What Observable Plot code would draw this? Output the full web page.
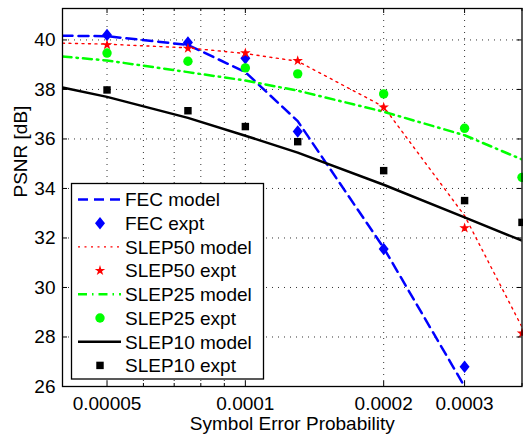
<!DOCTYPE html>
<html><head><meta charset="utf-8">
<script src="https://cdn.jsdelivr.net/npm/d3@7"></script>
<script src="https://cdn.jsdelivr.net/npm/@observablehq/plot@0.6"></script>
<style>
body{margin:0;background:#fff;}
#chart{position:relative;width:523px;height:435px;font-family:"Liberation Sans",Arial,sans-serif;}
#chart svg{display:block;}
#legend{position:absolute;left:0;top:0;pointer-events:none;}
</style></head><body><div id="chart"></div>
<script>
// ---- data ----
const xExpt = [5e-5, 7.5e-5, 1e-4, 1.3e-4, 2e-4, 3e-4, 4e-4];
const xModel = [4e-5, 5e-5, 7.5e-5, 1e-4, 1.3e-4, 2e-4, 3e-4, 4e-4];
const fecModel = [40.17, 40.15, 39.8, 38.7, 36.72, 31.6, 26.0];
const fecExpt = [40.2, 39.9, 39.26, 36.3, 31.55, 26.8];
const slep50Model = [39.87, 39.83, 39.68, 39.45, 39.14, 37.3, 32.9, 28.4];
const slep50Expt = [39.8, 39.66, 39.47, 39.16, 37.28, 32.4, 28.15];
const slep25Model = [39.33, 39.17, 38.7, 38.36, 37.95, 37.1, 36.15, 35.17];
const slep25Expt = [39.47, 39.14, 38.87, 38.63, 37.82, 36.43, 34.45];
const slep10Model = [38.08, 37.7, 36.85, 36.13, 35.45, 34.15, 32.83, 31.89];
const slep10Expt = [37.98, 37.14, 36.5, 35.89, 34.72, 33.51, 32.63];
const legendLabels = ["FEC model","FEC expt","SLEP50 model","SLEP50 expt","SLEP25 model","SLEP25 expt","SLEP10 model","SLEP10 expt"];
const xTicks = [5e-5, 1e-4, 2e-4, 3e-4];
const xTickLabels = ["0.00005","0.0001","0.0002","0.0003"];
const xMinor = [4e-5, 6e-5, 7e-5, 8e-5, 9e-5, 4e-4];
const xGrid = [5e-5, 6e-5, 7e-5, 8e-5, 9e-5, 1e-4, 2e-4, 3e-4];
const yTicks = [26, 28, 30, 32, 34, 36, 38, 40];
const xLabel = "Symbol Error Probability";
const yLabel = "PSNR [dB]";

// ---- helpers ----
const rows = (xs, ys) => ys.map((y, i) => ({x: xs[i], y}));
const diamond = {draw(ctx, size){const r=Math.sqrt(size/Math.PI);ctx.moveTo(0,-r*1.25);ctx.lineTo(r,0);ctx.lineTo(0,r*1.25);ctx.lineTo(-r,0);ctx.closePath();}};
const W = 523, H = 435, ML = 62, MR = 1.5, MT = 8, MB = 49;
const innerW = W - ML - MR, innerH = H - MT - MB;
const font = "Liberation Sans, Arial, sans-serif";

const series = [
  {model: fecModel, expt: fecExpt, color: "#0000ff", dash: "10,6", lw: 2.5, symbol: diamond, r: 5},
  {model: slep50Model, expt: slep50Expt, color: "#ff0000", dash: "2,4.5", lw: 1.4, symbol: "star", r: 3.3},
  {model: slep25Model, expt: slep25Expt, color: "#00ff00", dash: "9,5,1.5,5", lw: 2.5, symbol: "circle", r: 4.7},
  {model: slep10Model, expt: slep10Expt, color: "#000000", dash: null, lw: 2.5, symbol: "square", r: 4.2}
];

const marks = [
  Plot.gridX(xGrid, {stroke: "#333", strokeOpacity: 1, strokeWidth: 1, strokeDasharray: "1,5"}),
  Plot.gridY(yTicks, {stroke: "#333", strokeOpacity: 1, strokeWidth: 1, strokeDasharray: "1,5"})
];
for (const s of series) {
  marks.push(Plot.line(rows(xModel, s.model), {x: "x", y: "y", stroke: s.color, strokeWidth: s.lw, strokeDasharray: s.dash, clip: true}));
}
for (const s of series) {
  marks.push(Plot.dot(rows(xExpt, s.expt), {x: "x", y: "y", symbol: s.symbol, r: s.r, fill: s.color, stroke: "none"}));
}
marks.push(
  Plot.frame({stroke: "black", strokeWidth: 1.3}),
  Plot.tickX(xTicks, {x: d => d, stroke: "black", insetTop: innerH - 5}),
  Plot.tickX(xTicks, {x: d => d, stroke: "black", insetBottom: innerH - 5}),
  Plot.tickX(xMinor, {x: d => d, stroke: "black", insetTop: innerH - 3}),
  Plot.tickX(xMinor, {x: d => d, stroke: "black", insetBottom: innerH - 3}),
  Plot.tickY(yTicks, {y: d => d, stroke: "black", insetRight: innerW - 5}),
  Plot.tickY(yTicks, {y: d => d, stroke: "black", insetLeft: innerW - 5}),
  Plot.axisX(xTicks, {tickSize: 0, tickPadding: 10, tickFormat: d => xTickLabels[xTicks.indexOf(d)], fontSize: 19, fill: "black", label: null}),
  Plot.axisY(yTicks, {tickSize: 0, tickPadding: 7, fontSize: 19, fill: "black", label: null}),
  Plot.text([xLabel], {frameAnchor: "bottom", dy: 37, lineAnchor: "middle", fontSize: 19, fill: "black"}),
  Plot.text([yLabel], {frameAnchor: "left", dx: -42, rotate: -90, lineAnchor: "middle", fontSize: 19, fill: "black"})
);

const chart = Plot.plot({
  width: W, height: H, marginLeft: ML, marginRight: MR, marginTop: MT, marginBottom: MB,
  style: {fontFamily: font, fontSize: "19px", background: "white", color: "black"},
  x: {type: "log", domain: [4e-5, 4e-4]},
  y: {domain: [26, 41.27]},
  marks
});
const container = document.getElementById("chart");
container.appendChild(chart);

// ---- legend overlay ----
const lg = d3.select(container).append("svg").attr("id", "legend").attr("width", W).attr("height", H);
lg.append("rect").attr("x", 71.5).attr("y", 183.5).attr("width", 192).attr("height", 195.5)
  .attr("fill", "white").attr("stroke", "black").attr("stroke-width", 1.3);
const symMap = {star: d3.symbolStar, circle: d3.symbolCircle, square: d3.symbolSquare};
legendLabels.forEach((lab, i) => {
  const cy = 199.5 + 23.7 * i;
  const s = series[Math.floor(i / 2)];
  if (i % 2 === 0) {
    lg.append("line").attr("x1", 78).attr("x2", 121).attr("y1", cy).attr("y2", cy)
      .attr("stroke", s.color).attr("stroke-width", s.lw).attr("stroke-dasharray", s.dash);
  } else {
    const t = typeof s.symbol === "string" ? symMap[s.symbol] : s.symbol;
    lg.append("path").attr("transform", `translate(100,${cy})`)
      .attr("d", d3.symbol(t, s.r * s.r * Math.PI)()).attr("fill", s.color);
  }
  lg.append("text").attr("x", 125).attr("y", cy).attr("dy", "0.36em")
    .attr("font-family", font).attr("font-size", 19).attr("fill", "black").text(lab);
});
</script></body></html>
